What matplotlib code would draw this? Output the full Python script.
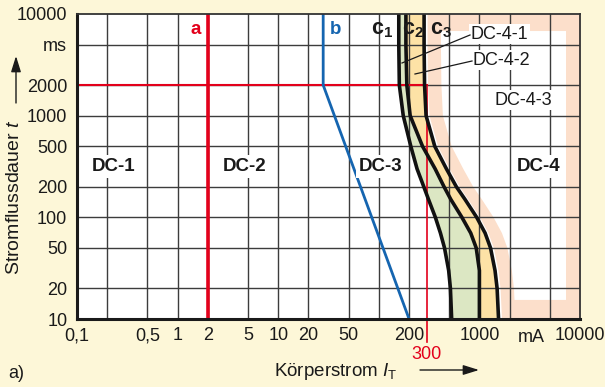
import numpy as np
import matplotlib
matplotlib.use('Agg')
import matplotlib.pyplot as plt
from matplotlib.patches import Polygon

plt.rcParams['font.family'] = ['Liberation Sans', 'DejaVu Sans']
plt.rcParams['mathtext.fontset'] = 'custom'
plt.rcParams['mathtext.rm'] = 'Liberation Sans'
plt.rcParams['mathtext.it'] = 'Liberation Sans:italic'
plt.rcParams['mathtext.bf'] = 'Liberation Sans:bold'

# ---------------- data ----------------
t_ms = [10000, 5000, 2000, 1000, 500, 300, 200, 150, 100, 70, 50, 30, 20, 10]
c1_mA = [158, 158, 160, 175, 208, 240, 280, 312, 365, 410, 450, 495, 515, 530]
c2_mA = [186, 186, 190, 205, 272, 363, 445, 520, 670, 820, 930, 1000, 1000, 1000]
c3_mA = [282, 282, 285, 295, 360, 470, 590, 720, 940, 1140, 1290, 1430, 1500, 1550]

a_mA = 2
b_t = [10000, 2000, 10]
b_mA = [28, 28, 200]
limit_t = 2000
limit_mA = 300

x_ticks = [0.1, 0.5, 1, 2, 5, 10, 20, 50, 200, 1000, 10000]
x_labels = ['0,1', '0,5', '1', '2', '5', '10', '20', '50', '200', '1000', '10000']
x_grid = [0.2, 0.5, 1, 2, 5, 10, 20, 50, 100, 200, 500, 1000, 2000, 5000]
y_ticks = [10, 20, 50, 100, 200, 500, 1000, 2000, 5000, 10000]
y_labels = ['10', '20', '50', '100', '200', '500', '1000', '2000', 'ms', '10000']
y_grid = [20, 50, 100, 200, 500, 1000, 2000, 5000]

# ---------------- colours ----------------
BG = '#FDF7D8'
GREEN = '#DCE7C3'
ORANGE = '#FDE2A6'
PEACH = '#FCDFCB'
RED = '#E3001B'
BLUE = '#1565B0'
GRID = '#3C3C3C'
INK = '#1a1a1a'

fig = plt.figure(figsize=(6.05, 3.87), dpi=100, facecolor=BG)
ax = fig.add_axes([77/605, 1-319/387, 503/605, 305/387])
ax.set_facecolor('white')
ax.set_xscale('log')
ax.set_yscale('log')
ax.set_xlim(0.1, 10000)
ax.set_ylim(10, 10000)

t = np.array(t_ms, dtype=float)
c1 = np.array(c1_mA, dtype=float)
c2 = np.array(c2_mA, dtype=float)
c3 = np.array(c3_mA, dtype=float)

# DC-4-3 band (peach frame inside the region right of c3)
ax.fill_betweenx(t, c3 * 1.07, 10000, color=PEACH, lw=0, zorder=1)
t_top, t_bot, x_right = 6800.0, 15.4, 7260.0
lt_asc = np.log10(t[::-1])
lc3_asc = np.log10(c3[::-1])
inner_t = [t_top] + [v for v in t_ms if t_bot < v < t_top] + [t_bot]
inner_x = 10 ** np.interp(np.log10(inner_t), lt_asc, lc3_asc) * 1.47
pts = list(zip(inner_x, inner_t)) + [(x_right, t_bot), (x_right, t_top)]
ax.add_patch(Polygon(pts, closed=True, facecolor='white', edgecolor='none', zorder=1.1))

# DC-4-1 and DC-4-2 fills
ax.fill_betweenx(t, c1, c2, color=GREEN, lw=0, zorder=1.2)
ax.fill_betweenx(t, c2, c3, color=ORANGE, lw=0, zorder=1.2)

# grid
for gx in x_grid:
    ax.axvline(gx, color=GRID, lw=1.0, zorder=2)
for gy in y_grid:
    ax.axhline(gy, color=GRID, lw=1.0, zorder=2)

# boundary lines
ax.axvline(a_mA, color=RED, lw=2.6, zorder=3)
ax.plot([0.1, limit_mA], [limit_t, limit_t], color=RED, lw=1.5, zorder=3)
ax.plot([limit_mA, limit_mA], [limit_t, 6.0], color=RED, lw=1.2, zorder=3, clip_on=False)
ax.plot(b_mA, b_t, color=BLUE, lw=2.0, zorder=3)
for c in (c1, c2, c3):
    ax.plot(c, t, color='#111111', lw=2.6, zorder=3.5, solid_capstyle='butt',
            solid_joinstyle='round')

# ticks
ax.set_xticks(x_ticks)
ax.set_xticklabels(x_labels)
ax.set_yticks(y_ticks)
ax.set_yticklabels(y_labels)
ax.minorticks_off()
ax.tick_params(axis='both', length=0, labelsize=13, colors=INK)
ax.tick_params(axis='x', pad=6)
ax.tick_params(axis='y', pad=7)

for side in ('left', 'bottom'):
    ax.spines[side].set_linewidth(2.2)
    ax.spines[side].set_color(INK)
for side in ('top', 'right'):
    ax.spines[side].set_linewidth(1.3)
    ax.spines[side].set_color('#333333')
for s in ax.spines.values():
    s.set_zorder(5)

ax.text((531-77)/503, -0.0325, 'mA', transform=ax.transAxes, ha='center', va='top',
        fontsize=13, color=INK)
ax.text(limit_mA, -0.118, '300', transform=ax.get_xaxis_transform(), ha='center',
        va='center', fontsize=13, color=RED)

# region labels
wb = dict(boxstyle='square,pad=0.15', facecolor='white', edgecolor='none')
for txt, fx in (('DC-1', 0.072), ('DC-2', 0.334), ('DC-3', 0.604), ('DC-4', 0.917)):
    ax.text(fx, 0.5, txt, transform=ax.transAxes, ha='center', va='center',
            fontsize=13.5, fontweight='bold', color=INK, bbox=wb, zorder=4)
ax.text(0.235, 0.95, 'a', transform=ax.transAxes, ha='center', va='center',
        fontsize=13.5, fontweight='bold', color=RED, zorder=4)
ax.text(0.513, 0.948, 'b', transform=ax.transAxes, ha='center', va='center',
        fontsize=13.5, fontweight='bold', color=BLUE, zorder=4)
for txt, fx in (('1', 0.606), ('2', 0.668), ('3', 0.724)):
    ax.text(fx, 0.948, r'$\mathbf{c_{' + txt + '}}$', transform=ax.transAxes,
            ha='center', va='center', fontsize=15.5, color=INK, zorder=4)

wb2 = dict(boxstyle='square,pad=0.1', facecolor='white', edgecolor='none')
ax.text(0.782, 0.934, 'DC-4-1', transform=ax.transAxes, ha='left', va='center',
        fontsize=13, color=INK, bbox=wb2, zorder=4)
ax.text(0.786, 0.849, 'DC-4-2', transform=ax.transAxes, ha='left', va='center',
        fontsize=13, color=INK, bbox=wb2, zorder=4)
ax.text(0.887, 0.718, 'DC-4-3', transform=ax.transAxes, ha='center', va='center',
        fontsize=13, color=INK, bbox=wb2, zorder=4)
ax.plot([(470-77)/503, (402-77)/503], [1-(35-14)/305, 1-(63-14)/305],
        transform=ax.transAxes, color=INK, lw=0.9, zorder=4)
ax.plot([(472-77)/503, (415-77)/503], [1-(61-14)/305, 1-(74-14)/305],
        transform=ax.transAxes, color=INK, lw=0.9, zorder=4)

# axis titles and arrows
fig.text(15/605, 1-197/387, r'Stromflussdauer $\mathit{t}$', rotation=90,
         ha='center', va='center', fontsize=14, color=INK)
fig.text(336/605, 1-371/387, r'Körperstrom $\mathit{I}_{\mathrm{T}}$',
         ha='center', va='center', fontsize=13.5, color=INK)
fig.text(8/605, 1-373/387, 'a)', ha='left', va='center', fontsize=13, color=INK)
arrow = dict(arrowstyle='-|>,head_length=0.8,head_width=0.25', color=INK, lw=1.0,
             shrinkA=0, shrinkB=0, mutation_scale=12)
ax.annotate('', xy=(16, 387-56), xytext=(16, 387-103), xycoords='figure pixels',
            textcoords='figure pixels', arrowprops=arrow, annotation_clip=False)
ax.annotate('', xy=(479, 387-370), xytext=(420, 387-370), xycoords='figure pixels',
            textcoords='figure pixels', arrowprops=arrow, annotation_clip=False)

fig.savefig('out.png', dpi=100, facecolor=BG)
